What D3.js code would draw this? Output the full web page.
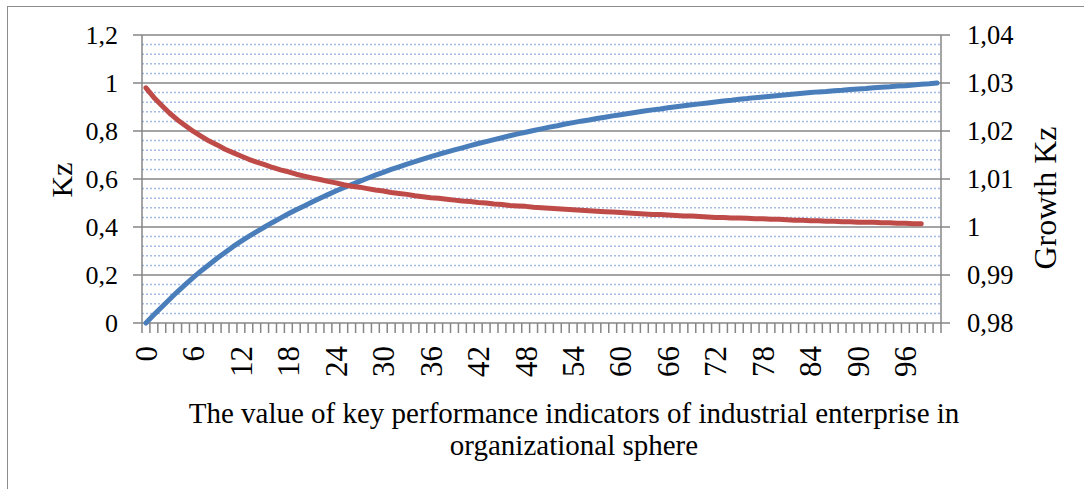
<!DOCTYPE html>
<html>
<head>
<meta charset="utf-8">
<script src="https://cdn.jsdelivr.net/npm/d3@7"></script>
<style>
  html, body { margin: 0; padding: 0; background: #fff; }
  svg { display: block; font-family: "Liberation Serif", "Times New Roman", serif; }
</style>
</head>
<body>
<svg id="chart" width="1084" height="489"></svg>
<script>
// categories on the x axis (0..100)
const categories = [0,1,2,3,4,5,6,7,8,9,10,11,12,13,14,15,16,17,18,19,20,21,22,23,24,25,26,27,28,29,30,
  31,32,33,34,35,36,37,38,39,40,41,42,43,44,45,46,47,48,49,50,51,52,53,54,55,56,57,58,59,60,
  61,62,63,64,65,66,67,68,69,70,71,72,73,74,75,76,77,78,79,80,81,82,83,84,85,86,87,88,89,90,
  91,92,93,94,95,96,97,98,99,100];

// Kz (left axis), one value per category
const kzValues = [0.000,0.034,0.067,0.099,0.131,0.161,0.190,0.218,0.244,0.270,0.294,
  0.318,0.340,0.361,0.381,0.400,0.419,0.437,0.455,0.472,0.488,
  0.504,0.520,0.535,0.550,0.564,0.577,0.590,0.603,0.616,0.628,
  0.640,0.651,0.662,0.672,0.683,0.693,0.703,0.712,0.721,0.730,
  0.739,0.748,0.756,0.764,0.772,0.780,0.788,0.795,0.802,0.809,
  0.816,0.822,0.829,0.835,0.841,0.846,0.852,0.857,0.863,0.868,
  0.873,0.878,0.883,0.888,0.892,0.897,0.901,0.905,0.909,0.913,
  0.917,0.921,0.925,0.928,0.932,0.935,0.939,0.942,0.945,0.948,
  0.951,0.954,0.957,0.960,0.963,0.965,0.968,0.970,0.973,0.975,
  0.977,0.980,0.982,0.984,0.987,0.989,0.992,0.995,0.997,1.000];

// Growth Kz (right axis), categories 0..98
const growthValues = [1.0290,1.0270,1.0253,1.0237,1.0223,1.0211,1.0199,1.0189,1.0179,1.0171,
  1.0162,1.0155,1.0148,1.0141,1.0135,1.0130,1.0124,1.0119,1.0115,1.0110,
  1.0106,1.0102,1.0099,1.0095,1.0092,1.0088,1.0085,1.0083,1.0080,1.0077,
  1.0075,1.0072,1.0070,1.0068,1.0065,1.0063,1.0061,1.0060,1.0058,1.0056,
  1.0054,1.0053,1.0051,1.0050,1.0048,1.0047,1.0045,1.0044,1.0043,1.0041,
  1.0040,1.0039,1.0038,1.0037,1.0036,1.0035,1.0034,1.0033,1.0032,1.0031,
  1.0030,1.0029,1.0028,1.0027,1.0026,1.0026,1.0025,1.0024,1.0023,1.0023,
  1.0022,1.0021,1.0020,1.0020,1.0019,1.0019,1.0018,1.0017,1.0017,1.0016,
  1.0016,1.0015,1.0014,1.0014,1.0013,1.0013,1.0012,1.0012,1.0011,1.0011,
  1.0010,1.0010,1.0010,1.0009,1.0009,1.0008,1.0008,1.0007,1.0007];

const xLabels = [0,6,12,18,24,30,36,42,48,54,60,66,72,78,84,90,96];
const leftTicks = [0,0.2,0.4,0.6,0.8,1,1.2];
const rightTicks = [0.98,0.99,1,1.01,1.02,1.03,1.04];
const minorStepsPerMajor = 5;

const svg = d3.select("#chart");

const plot = { left: 142, right: 941, top: 35, bottom: 323 };

const x = d3.scaleBand()
  .domain(categories)
  .range([plot.left, plot.right])
  .padding(0);

const yLeft = d3.scaleLinear().domain([0, 1.2]).range([plot.bottom, plot.top]);
const yRight = d3.scaleLinear().domain([0.98, 1.04]).range([plot.bottom, plot.top]);

const fmt = v => String(+v.toFixed(2)).replace(".", ",");

// outer chart border
svg.append("rect")
  .attr("x", 7.5).attr("y", 6.5)
  .attr("width", 1090).attr("height", 500)
  .attr("fill", "none")
  .attr("stroke", "#8c8c8c")
  .attr("stroke-width", 1);

/* minor gridlines */
const minorG = svg.append("g");
for (let i = 0; i < leftTicks.length - 1; i++) {
  const a = leftTicks[i], b = leftTicks[i + 1];
  for (let k = 1; k < minorStepsPerMajor; k++) {
    const v = a + (b - a) * k / minorStepsPerMajor;
    minorG.append("line")
      .attr("x1", plot.left).attr("x2", plot.right)
      .attr("y1", yLeft(v)).attr("y2", yLeft(v))
      .attr("stroke", "#a3bbe6")
      .attr("stroke-width", 1.5)
      .attr("stroke-dasharray", "2,2");
  }
}

/* major gridlines + left/right ticks */
const majorG = svg.append("g");
leftTicks.forEach(v => {
  majorG.append("line")
    .attr("x1", plot.left - 9).attr("x2", plot.right + 9)
    .attr("y1", yLeft(v)).attr("y2", yLeft(v))
    .attr("stroke", "#868686")
    .attr("stroke-width", 1.5);
});

// vertical axis lines
[plot.left, plot.right].forEach(px => {
  majorG.append("line")
    .attr("x1", px).attr("x2", px)
    .attr("y1", plot.top).attr("y2", plot.bottom)
    .attr("stroke", "#868686")
    .attr("stroke-width", 1.5);
});

// x tick marks between categories
const xTickPos = categories.map(c => x(c)).concat([plot.right]);
majorG.selectAll("line.xt")
  .data(xTickPos)
  .join("line")
  .attr("class", "xt")
  .attr("x1", d => d).attr("x2", d => d)
  .attr("y1", plot.bottom).attr("y2", plot.bottom + 10)
  .attr("stroke", "#868686")
  .attr("stroke-width", 1.5);

/* tick labels */
svg.append("g").selectAll("text")
  .data(leftTicks)
  .join("text")
  .attr("x", 118)
  .attr("y", d => yLeft(d))
  .attr("dy", "0.35em")
  .attr("text-anchor", "end")
  .attr("font-size", 26)
  .text(d => fmt(d));

svg.append("g").selectAll("text")
  .data(rightTicks)
  .join("text")
  .attr("x", 967)
  .attr("y", d => yRight(d))
  .attr("dy", "0.35em")
  .attr("text-anchor", "start")
  .attr("font-size", 26.5)
  .text(d => fmt(d));

svg.append("g").selectAll("text")
  .data(xLabels)
  .join("text")
  .attr("transform", d => `translate(${x(d) + x.bandwidth() / 2},346) rotate(-90)`)
  .attr("dy", "0.35em")
  .attr("text-anchor", "end")
  .attr("font-size", 31)
  .text(d => d);

/* axis titles */
svg.append("text")
  .attr("transform", "translate(61,180) rotate(-90)")
  .attr("dy", "0.35em")
  .attr("text-anchor", "middle")
  .attr("font-size", 30)
  .text("Kz");

svg.append("text")
  .attr("transform", "translate(1045,198) rotate(-90)")
  .attr("dy", "0.35em")
  .attr("text-anchor", "middle")
  .attr("font-size", 32)
  .text("Growth Kz");

const xTitle = svg.append("text")
  .attr("text-anchor", "middle")
  .attr("font-size", 29);
xTitle.append("tspan").attr("x", 574).attr("y", 423)
  .text("The value of key performance indicators of industrial enterprise in");
xTitle.append("tspan").attr("x", 574).attr("y", 455)
  .text("organizational sphere");

/* series lines */
const cx = c => x(c) + x.bandwidth() / 2;

const kzLine = d3.line()
  .x((d, i) => cx(categories[i]))
  .y(d => yLeft(d));

const growthLine = d3.line()
  .x((d, i) => cx(categories[i]))
  .y(d => yRight(d));

svg.append("path")
  .datum(kzValues)
  .attr("d", kzLine)
  .attr("fill", "none")
  .attr("stroke", "#4a7ebb")
  .attr("stroke-width", 5)
  .attr("stroke-linecap", "round")
  .attr("stroke-linejoin", "round");

svg.append("path")
  .datum(growthValues)
  .attr("d", growthLine)
  .attr("fill", "none")
  .attr("stroke", "#be4b48")
  .attr("stroke-width", 5)
  .attr("stroke-linecap", "round")
  .attr("stroke-linejoin", "round");
</script>
</body>
</html>
